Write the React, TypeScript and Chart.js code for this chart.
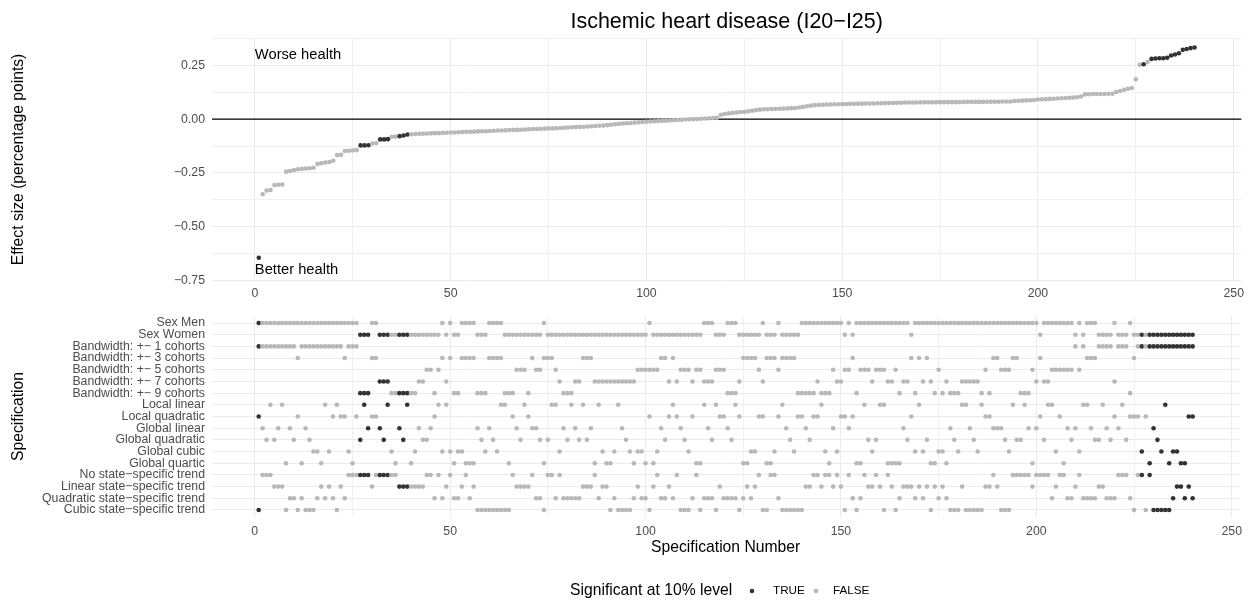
import React, { useEffect, useRef } from 'react';
import { Chart, registerables } from 'chart.js';

Chart.register(...registerables);

const FONT = '"Liberation Sans", Arial, Helvetica, sans-serif';
const DARK = '#333333';
const LIGHT = '#b8b8b8';
const GRID = '#ebebeb';
const GRID_MINOR = '#f1f1f1';
const TICK_COLOR = '#4d4d4d';
const TICK_SIZE = 12.3;
const TITLE_SIZE = 15.7;
const POINT_R = 2.3;

// ---------------- data ----------------
const chartTitle = 'Ischemic heart disease (I20\u2212I25)';
const topYTitle = 'Effect size (percentage points)';
const bottomYTitle = 'Specification';
const xTitle = 'Specification Number';
const legendTitle = 'Significant at 10% level';
const legendLabels = ['TRUE', 'FALSE'];
const worseLabel = 'Worse health';
const betterLabel = 'Better health';

const xTickValues = [0, 25, 50, 75, 100, 125, 150, 175, 200, 225, 250];
const xTickLabelled = [0, 50, 100, 150, 200, 250];
const yTickValues = [-0.75, -0.625, -0.5, -0.375, -0.25, -0.125, 0, 0.125, 0.25, 0.375];
const yTickLabelled = [-0.75, -0.5, -0.25, 0, 0.25];

// effect sizes of specifications 1..240 (sorted)
const effectSize: number[] = [
  -0.644, -0.349, -0.332, -0.329, -0.306, -0.305, -0.304, -0.244, -0.241, -0.237,
  -0.233, -0.231, -0.229, -0.228, -0.226, -0.208, -0.205, -0.202, -0.199, -0.193,
  -0.167, -0.166, -0.148, -0.147, -0.145, -0.144, -0.122, -0.122, -0.121, -0.113,
  -0.112, -0.094, -0.094, -0.093, -0.082, -0.081, -0.079, -0.076, -0.071, -0.070,
  -0.069, -0.068, -0.068, -0.067, -0.066, -0.065, -0.065, -0.064, -0.063, -0.062,
  -0.062, -0.061, -0.060, -0.059, -0.059, -0.058, -0.057, -0.056, -0.056, -0.055,
  -0.054, -0.053, -0.053, -0.052, -0.051, -0.050, -0.050, -0.049, -0.048, -0.047,
  -0.046, -0.046, -0.045, -0.044, -0.043, -0.043, -0.042, -0.041, -0.040, -0.039,
  -0.038, -0.037, -0.036, -0.035, -0.034, -0.033, -0.032, -0.031, -0.030, -0.028,
  -0.026, -0.024, -0.022, -0.020, -0.019, -0.018, -0.016, -0.015, -0.013, -0.012,
  -0.011, -0.010, -0.009, -0.008, -0.007, -0.006, -0.005, -0.004, -0.003, -0.002,
  -0.001, 0.000, 0.001, 0.002, 0.003, 0.004, 0.005, 0.006, 0.020, 0.024,
  0.027, 0.029, 0.031, 0.033, 0.034, 0.036, 0.039, 0.042, 0.044, 0.046,
  0.046, 0.047, 0.047, 0.048, 0.049, 0.050, 0.051, 0.052, 0.054, 0.057,
  0.060, 0.063, 0.065, 0.066, 0.067, 0.068, 0.068, 0.069, 0.069, 0.070,
  0.070, 0.071, 0.071, 0.072, 0.072, 0.073, 0.073, 0.073, 0.074, 0.074,
  0.075, 0.075, 0.075, 0.076, 0.076, 0.077, 0.077, 0.077, 0.077, 0.078,
  0.078, 0.078, 0.078, 0.078, 0.079, 0.079, 0.079, 0.079, 0.079, 0.079,
  0.080, 0.080, 0.080, 0.080, 0.080, 0.080, 0.081, 0.081, 0.081, 0.081,
  0.082, 0.082, 0.082, 0.084, 0.085, 0.086, 0.087, 0.088, 0.089, 0.091,
  0.092, 0.093, 0.094, 0.095, 0.096, 0.097, 0.098, 0.099, 0.100, 0.102,
  0.105, 0.115, 0.116, 0.117, 0.117, 0.117, 0.117, 0.118, 0.118, 0.126,
  0.131, 0.136, 0.141, 0.145, 0.185, 0.253, 0.255, 0.265, 0.280, 0.282,
  0.283, 0.283, 0.285, 0.296, 0.300, 0.306, 0.322, 0.326, 0.330, 0.333,
];

// specifications significant at the 10% level
const significantSpecs = '1,27-29,32-34,37-39,227,229-240';

// specification rows (top to bottom) and the specifications that use each choice
const rowLabels = [
  'Sex Men',
  'Sex Women',
  'Bandwidth: +\u2212 1 cohorts',
  'Bandwidth: +\u2212 3 cohorts',
  'Bandwidth: +\u2212 5 cohorts',
  'Bandwidth: +\u2212 7 cohorts',
  'Bandwidth: +\u2212 9 cohorts',
  'Local linear',
  'Local quadratic',
  'Global linear',
  'Global quadratic',
  'Global cubic',
  'Global quartic',
  'No state\u2212specific trend',
  'Linear state\u2212specific trend',
  'Quadratic state\u2212specific trend',
  'Cubic state\u2212specific trend',
];

const sexMen = '1-26,30,31,48,50,53-56,60-63,74,101,115-117,121-123,130,134,140-150,152,154-167,169-200,202-209,211,213-215,220,224';
const sexWomen = '27-29,32-47,49,51,52,57-59,64-73,75-100,102-114,118-120,124-129,131-133,135-139,151,153,168,201,210,212,216-219,221-223,225-240';
const bandwidth1 = '1-10,12-22,24-26,210,212,216-219,221-223,226-240';
const bandwidth3 = '11,23,30,31,48,50,53-56,60-63,71,74-76,84-86,104,105,107,125-128,131-133,135-138,153,168,170,172,189,190,194,195,201,213-215,225';
const bandwidth5 = '44,45,47,67-69,72,73,77,98-103,109-111,113,114,118-120,129,134,148,151,152,155-157,159-161,164,175,187,191-193,199,204-209,211';
const bandwidth7 = '32-34,42,43,49,78,82,83,87-97,106,108,112,115-117,124,130,144,149,150,158,162,163,166,167,171,173,177,181-185,200,202,203,220';
const bandwidth9 = '27-29,35-41,46,51,52,57-59,64-66,70,79-81,121-123,139-143,145-147,154,165,169,174,176,178-180,186,188,196-198,224';
const localLinear = '4,7,18,21,28,34,39,47,49,63,64,69,76,77,81,84,88,93,107,115,118,123,135,145,156,160,161,170,181,182,186,194,197,203,204,212,213,217,222,233';
const localQuadratic = '1,11,20,22,23,26,30,31,46,66,70,101,106,108,112,119,120,124,129,130,134,139,140,143,144,150,151,153,168,187,188,201,206,220,224-226,228,239,240';
const globalLinear = '2,6,9,13,29,32,37,42,45,57,60,67,71,72,79,82,86,94,104,109,116,121,136,141,148,152,166,178,183,189-191,198,200,208,210,214,218,221,230';
const globalQuadratic = '3,5,10,14,27,33,38,43,44,58,61,68,73,75,80,83,85,95,105,110,117,122,137,142,157,159,167,172,179,184,192,195,196,202,209,215,216,219,223,231';
const globalCubic = '15,16,19,24,35,41,48,50,52,53,59,62,78,89,92,96,98,99,103,111,127,128,133,138,146,149,158,169,171,175,176,180,185,193,205,211,227,232,235,236';
const globalQuartic = '8,12,17,25,36,40,51,54-56,65,74,87,90,91,97,100,102,113,114,125,126,131,132,147,154,155,162-165,173,174,177,199,207,229,234,237,238';
const noTrend = '2-4,24-29,31-36,44,45,47,50,54,66,71,75,76,78,87,103,108,113,129,132,133,143,144,146,147,149,152,156,159,162,189,194-198,200-203,206,207,211,221-223,226,227,229';
const linearTrend = '5-7,17,19,22,30,37-43,49,53,56,67-70,84-86,89,90,98,102,106,119,126,128,141,142,145,148,150,157,158,160,163,166-168,170,172,174,176,181,187,188,190,199,205,210,216,217,236,237,239';
const quadraticTrend = '9,10,12,16,18,20,23,46,48,51,52,55,72,73,77,79-83,88,92,97,99,100,104,105,107,112,115-117,120-123,125,127,134,153,155,165,169,171,175,177,204,208,209,212-215,218-220,224,235,238,240';
const cubicTrend = '1,8,11,13-15,21,57-65,74,91,93-96,101,109-111,114,118,124,130,131,135-140,151,154,161,164,173,178-180,182-186,191-193,225,228,230-234';

const rowMembers = [
  sexMen, sexWomen, bandwidth1, bandwidth3, bandwidth5, bandwidth7, bandwidth9,
  localLinear, localQuadratic, globalLinear, globalQuadratic, globalCubic, globalQuartic,
  noTrend, linearTrend, quadraticTrend, cubicTrend,
];

// ---------------- helpers ----------------
function parseSpecs(s: string): number[] {
  const out: number[] = [];
  s.split(',').forEach((part) => {
    const [a, b] = part.split('-').map(Number);
    if (b === undefined || isNaN(b)) out.push(a);
    else for (let i = a; i <= b; i++) out.push(i);
  });
  return out;
}

const fmtY = (v: number) => {
  const s = Math.abs(v).toFixed(2);
  return v < 0 ? '\u2212' + s : s;
};

const PANEL_LEFT = 212;
const X_MIN = -10.95;
const X_MAX = 251.95;

export default function App() {
  const topRef = useRef<HTMLCanvasElement | null>(null);
  const botRef = useRef<HTMLCanvasElement | null>(null);

  useEffect(() => {
    const sig = new Set(parseSpecs(significantSpecs));

    const xScaleBase = (padding: number, height: number, withTitle: boolean, titlePad: number) => ({
      type: 'linear' as const,
      min: X_MIN,
      max: X_MAX,
      afterBuildTicks: (axis: any) => {
        axis.ticks = xTickValues.map((v) => ({ value: v }));
      },
      afterFit: (axis: any) => {
        axis.height = height;
      },
      border: { display: false },
      grid: {
        drawTicks: false,
        color: (ctx: any) => (xTickLabelled.includes(ctx.tick?.value) ? GRID : GRID_MINOR),
        lineWidth: 1,
      },
      ticks: {
        autoSkip: false,
        maxRotation: 0,
        padding,
        color: TICK_COLOR,
        font: { family: FONT, size: TICK_SIZE },
        callback: (v: any) => (xTickLabelled.includes(Number(v)) ? String(v) : ''),
      },
      title: {
        display: withTitle,
        text: xTitle,
        color: '#000000',
        font: { family: FONT, size: TITLE_SIZE },
        padding: { top: 0, bottom: titlePad },
      },
    });

    // ---------- top panel ----------
    const topPlugin = {
      id: 'topExtras',
      beforeDatasetsDraw(chart: any) {
        const { ctx, chartArea, scales } = chart;
        const y0 = scales.y.getPixelForValue(0);
        ctx.save();
        ctx.strokeStyle = '#000000';
        ctx.lineWidth = 1.3;
        ctx.beginPath();
        ctx.moveTo(chartArea.left, y0);
        ctx.lineTo(chartArea.right, y0);
        ctx.stroke();
        ctx.restore();
      },
      afterDatasetsDraw(chart: any) {
        const { ctx, chartArea, scales } = chart;
        ctx.save();
        ctx.fillStyle = '#000000';
        ctx.font = `14.7px ${FONT}`;
        ctx.textAlign = 'left';
        ctx.textBaseline = 'middle';
        ctx.fillText(worseLabel, scales.x.getPixelForValue(0), scales.y.getPixelForValue(0.3));
        ctx.fillText(betterLabel, scales.x.getPixelForValue(0), scales.y.getPixelForValue(-0.7));
        ctx.font = `21.5px ${FONT}`;
        ctx.textAlign = 'center';
        ctx.fillText(chartTitle, (chartArea.left + chartArea.right) / 2, 22);
        ctx.restore();
      },
    };

    const topChart = new Chart(topRef.current as HTMLCanvasElement, {
      type: 'scatter',
      data: {
        datasets: [
          {
            data: effectSize.map((v, i) => ({ x: i + 1, y: v })),
            pointRadius: POINT_R,
            pointBorderWidth: 0,
            pointBackgroundColor: effectSize.map((_, i) => (sig.has(i + 1) ? DARK : LIGHT)),
          },
        ],
      },
      options: {
        animation: false,
        responsive: false,
        devicePixelRatio: 1,
        events: [],
        layout: { padding: { top: 38, right: 2, left: 0, bottom: 0 } },
        plugins: { legend: { display: false }, tooltip: { enabled: false }, title: { display: false } },
        scales: {
          x: xScaleBase(5, 29, false, 0) as any,
          y: {
            type: 'linear',
            min: -0.752,
            max: 0.377,
            afterBuildTicks: (axis: any) => {
              axis.ticks = yTickValues.map((v) => ({ value: v }));
            },
            afterFit: (axis: any) => {
              axis.width = PANEL_LEFT;
            },
            border: { display: false },
            grid: {
              drawTicks: false,
              color: (ctx: any) => (yTickLabelled.includes(ctx.tick?.value) ? GRID : GRID_MINOR),
              lineWidth: 1,
            },
            ticks: {
              autoSkip: false,
              padding: 7,
              color: TICK_COLOR,
              font: { family: FONT, size: TICK_SIZE },
              callback: (v: any) => (yTickLabelled.includes(Number(v)) ? fmtY(Number(v)) : ''),
            },
            title: {
              display: true,
              text: topYTitle,
              color: '#000000',
              font: { family: FONT, size: TITLE_SIZE },
              padding: { top: 9.6, bottom: 0 },
            },
          },
        },
      },
      plugins: [topPlugin],
    });

    // ---------- bottom panel ----------
    const rowSets = rowMembers.map(parseSpecs);
    const botPlugin = {
      id: 'legendExtras',
      afterDraw(chart: any) {
        const { ctx } = chart;
        const y = 291;
        ctx.save();
        ctx.textBaseline = 'middle';
        ctx.textAlign = 'left';
        ctx.fillStyle = '#000000';
        ctx.font = `${TITLE_SIZE}px ${FONT}`;
        ctx.fillText(legendTitle, 570, y);
        ctx.fillStyle = DARK;
        ctx.beginPath();
        ctx.arc(752, y, POINT_R, 0, Math.PI * 2);
        ctx.fill();
        ctx.fillStyle = LIGHT;
        ctx.beginPath();
        ctx.arc(816, y, POINT_R, 0, Math.PI * 2);
        ctx.fill();
        ctx.fillStyle = '#000000';
        ctx.font = `11.7px ${FONT}`;
        ctx.fillText(legendLabels[0], 773, y);
        ctx.fillText(legendLabels[1], 833, y);
        ctx.restore();
      },
    };

    const botChart = new Chart(botRef.current as HTMLCanvasElement, {
      type: 'scatter',
      data: {
        datasets: rowSets.map((specs, r) => ({
          data: specs.map((s) => ({ x: s, y: r })),
          pointRadius: POINT_R,
          pointBorderWidth: 0,
          pointBackgroundColor: specs.map((s) => (sig.has(s) ? DARK : LIGHT)),
        })),
      },
      options: {
        animation: false,
        responsive: false,
        devicePixelRatio: 1,
        events: [],
        layout: { padding: { top: 16, right: 2, left: 0, bottom: 0 } },
        plugins: { legend: { display: false }, tooltip: { enabled: false }, title: { display: false } },
        scales: {
          x: xScaleBase(7, 84, true, 43.6) as any,
          y: {
            type: 'linear',
            min: -0.6,
            max: 16.6,
            reverse: true,
            afterBuildTicks: (axis: any) => {
              axis.ticks = rowLabels.map((_, i) => ({ value: i }));
            },
            afterFit: (axis: any) => {
              axis.width = PANEL_LEFT;
            },
            border: { display: false },
            grid: { drawTicks: false, color: GRID, lineWidth: 1 },
            ticks: {
              autoSkip: false,
              padding: 7,
              color: TICK_COLOR,
              font: { family: FONT, size: TICK_SIZE },
              callback: (v: any) => rowLabels[Number(v)] ?? '',
            },
            title: {
              display: true,
              text: bottomYTitle,
              color: '#000000',
              font: { family: FONT, size: TITLE_SIZE },
              padding: { top: 9.6, bottom: 0 },
            },
          },
        },
      },
      plugins: [botPlugin],
    });

    return () => {
      topChart.destroy();
      botChart.destroy();
    };
  }, []);

  return (
    <div style={{ position: 'fixed', left: 0, top: 0, width: 1249, height: 601, background: '#ffffff' }}>
      <canvas
        ref={topRef}
        width={1249}
        height={310}
        style={{ position: 'absolute', left: 0, top: 0, width: 1249, height: 310 }}
      />
      <canvas
        ref={botRef}
        width={1249}
        height={301}
        style={{ position: 'absolute', left: 0, top: 300, width: 1249, height: 301 }}
      />
    </div>
  );
}
